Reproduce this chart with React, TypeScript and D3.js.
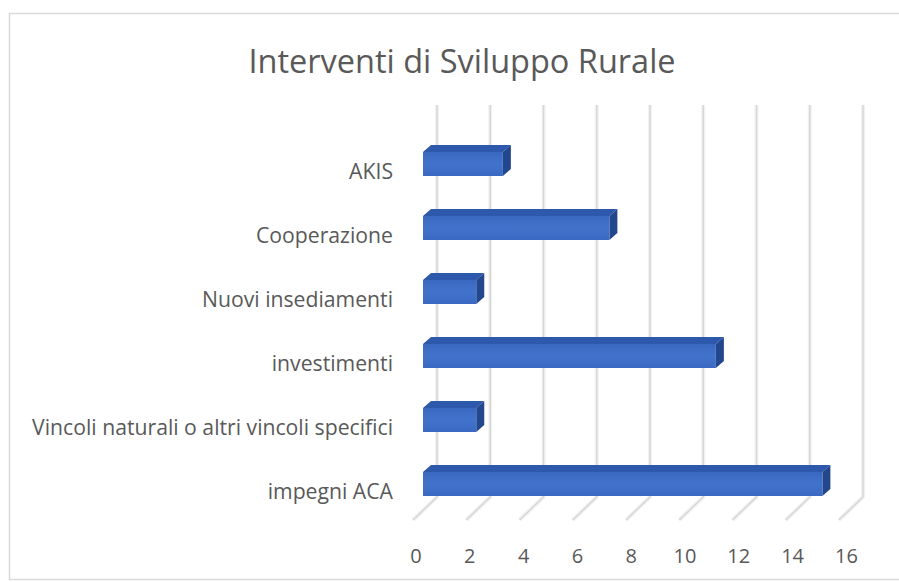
import React from "react";
import * as d3 from "d3";

const title = "Interventi di Sviluppo Rurale";
const categories = [
  "AKIS",
  "Cooperazione",
  "Nuovi insediamenti",
  "investimenti",
  "Vincoli naturali o altri vincoli specifici",
  "impegni ACA",
];
const values = [3, 7, 2, 11, 2, 15];
const ticks = [0, 2, 4, 6, 8, 10, 12, 14, 16];

const W = 899;
const H = 582;
const FONT = "'Open Sans', 'Noto Sans', sans-serif";

export default function App() {
  const x = d3.scaleLinear().domain([0, 16]).range([0, 426]);
  const backX0 = 437;
  const frontX0 = 423;
  const labelX0 = 416;
  const gridTop = 105;
  const gridBottom = 497;
  const floorDx = -24;
  const floorDy = 23;
  const barDx = 8;
  const barDy = -7;
  const barH = 24;

  const y = d3.scalePoint<string>().domain(categories).range([164, 484]);

  return (
    <svg
      width={W}
      height={H}
      style={{ position: "absolute", left: 0, top: 0, background: "#fff" }}
      fontFamily={FONT}
    >
      <defs>
        <linearGradient id="frontGrad" x1="0" y1="0" x2="0" y2="1">
          <stop offset="0" stopColor="#3a68c0" />
          <stop offset="0.5" stopColor="#4273cb" />
          <stop offset="1" stopColor="#3a69c2" />
        </linearGradient>
      </defs>
      <rect x={0} y={0} width={W} height={H} fill="#fff" />
      <rect x={9.5} y={13.5} width={892} height={566} fill="#fff" stroke="#d9d9d9" strokeWidth={1.5} />
      <text x={462} y={73} textAnchor="middle" fontSize={32.5} fill="#595959">
        {title}
      </text>
      <g fill="none" strokeLinejoin="round">
        {ticks.map((t) => {
          const bx = backX0 + x(t);
          const d = `M${bx},${gridTop} L${bx},${gridBottom} L${bx + floorDx},${gridBottom + floorDy}`;
          return (
            <g key={t}>
              <path d={d} stroke="#f1f1f1" strokeWidth={4} />
              <path d={d} stroke="#d6d6d6" strokeWidth={1.4} />
            </g>
          );
        })}
      </g>
      <g>
        {categories.map((c, i) => {
          const fx = frontX0;
          const fw = x(values[i]);
          const fy = (y(c) as number) - barH / 2;
          const top = `M${fx},${fy} L${fx + barDx},${fy + barDy} L${fx + fw + barDx},${fy + barDy} L${fx + fw},${fy} Z`;
          const side = `M${fx + fw},${fy} L${fx + fw + barDx},${fy + barDy} L${fx + fw + barDx},${fy + barH + barDy} L${fx + fw},${fy + barH} Z`;
          return (
            <g key={c}>
              <path d={top} fill="#2d58ab" />
              <path d={side} fill="#23478c" />
              <rect x={fx} y={fy} width={fw} height={barH} fill="url(#frontGrad)" />
            </g>
          );
        })}
      </g>
      <g fontSize={21.2} fill="#595959" textAnchor="end">
        {categories.map((c) => (
          <text key={c} x={393} y={(y(c) as number) + 6} dominantBaseline="central">
            {c}
          </text>
        ))}
      </g>
      <g fontSize={20} fill="#595959" textAnchor="middle">
        {ticks.map((t) => (
          <text key={t} x={labelX0 + t * 26.9} y={555} dominantBaseline="central">
            {t}
          </text>
        ))}
      </g>
    </svg>
  );
}
